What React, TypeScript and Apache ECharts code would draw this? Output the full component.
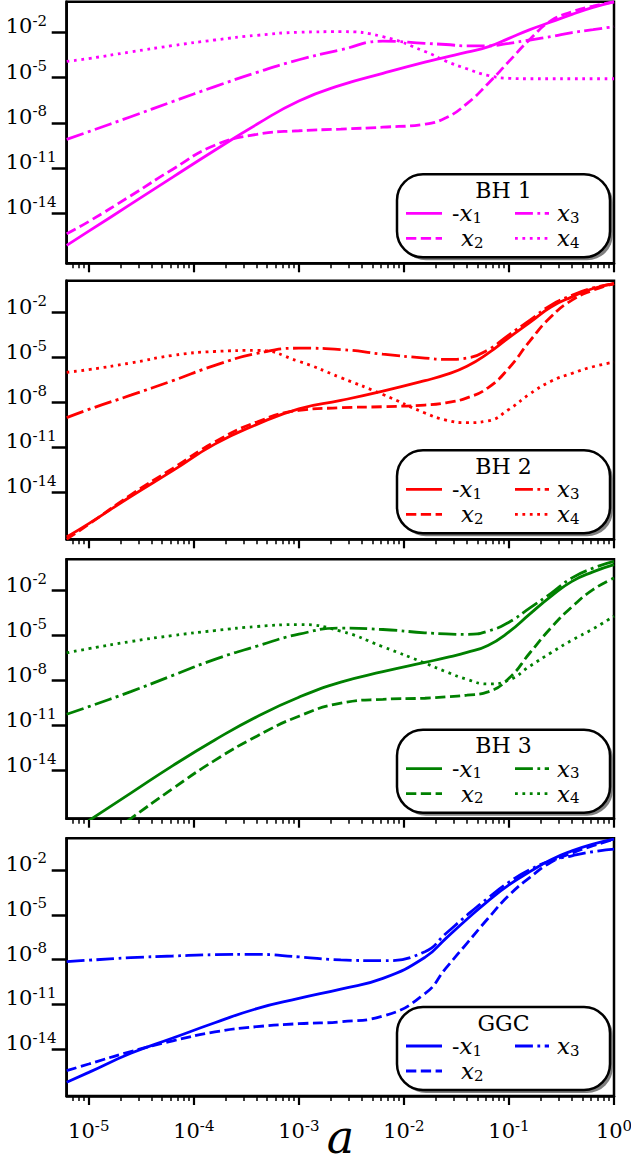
import React, { useEffect, useRef } from 'react';
import * as echarts from 'echarts';

// log10(a) sample positions shared by every curve
const X_EXP = [-5.21, -5.0, -4.6, -4.2, -3.8, -3.4, -3.0, -2.6, -2.2, -1.8, -1.6, -1.4, -1.2, -1.0, -0.8, -0.6, -0.4, -0.2, 0];

// log10 of the plotted quantities
const BH1_X1 = [-16.13, -15.19, -13.4, -11.6, -9.82, -8.1, -6.55, -5.5, -4.72, -3.98, -3.65, -3.32, -2.97, -2.4, -1.82, -1.32, -0.81, -0.35, 0.02];
const BH1_X2 = [-15.36, -14.55, -12.84, -11.08, -9.49, -8.77, -8.53, -8.42, -8.29, -8.09, -7.67, -6.73, -5.41, -3.93, -2.46, -1.23, -0.64, -0.26, 0.02];
const BH1_X3 = [-9.1, -8.59, -7.6, -6.59, -5.6, -4.66, -3.82, -3.16, -2.59, -2.73, -2.81, -2.9, -2.9, -2.73, -2.51, -2.29, -2.02, -1.82, -1.63];
const BH1_X4 = [-3.93, -3.74, -3.3, -2.88, -2.51, -2.2, -2.0, -1.96, -2.29, -3.27, -3.91, -4.42, -4.86, -5.05, -5.08, -5.08, -5.08, -5.08, -5.08];

const BH2_X1 = [-16.98, -16.09, -14.28, -12.55, -10.78, -9.46, -8.42, -7.86, -7.24, -6.54, -6.14, -5.58, -4.72, -3.66, -2.64, -1.62, -0.94, -0.38, -0.05];
const BH2_X2 = [-17.13, -16.14, -14.17, -12.4, -10.63, -9.3, -8.53, -8.35, -8.28, -8.17, -8.02, -7.69, -7.02, -5.69, -3.88, -2.27, -1.16, -0.5, -0.05];
const BH2_X3 = [-9.01, -8.46, -7.51, -6.54, -5.52, -4.72, -4.37, -4.46, -4.77, -5.03, -5.12, -5.03, -4.48, -3.48, -2.49, -1.49, -0.83, -0.34, -0.05];
const BH2_X4 = [-5.98, -5.8, -5.36, -4.85, -4.59, -4.52, -5.25, -6.34, -7.46, -8.7, -9.17, -9.35, -9.23, -8.46, -7.42, -6.58, -6.05, -5.61, -5.3];

const BH3_X1 = [-18.3, -17.33, -15.5, -13.66, -11.95, -10.4, -9.1, -8.1, -7.4, -6.78, -6.47, -6.12, -5.65, -4.75, -3.55, -2.38, -1.38, -0.75, -0.27];
const BH3_X2 = [-20.2, -19.2, -17.19, -15.19, -13.31, -11.7, -10.37, -9.5, -9.24, -9.17, -9.08, -8.97, -8.75, -7.84, -6.14, -4.48, -3.08, -1.93, -1.16];
const BH3_X3 = [-10.24, -9.73, -8.73, -7.65, -6.58, -5.7, -4.9, -4.5, -4.59, -4.81, -4.88, -4.92, -4.7, -4.1, -3.15, -2.18, -1.15, -0.5, -0.05];
const BH3_X4 = [-6.14, -5.87, -5.39, -4.99, -4.66, -4.39, -4.26, -4.7, -5.74, -6.83, -7.4, -7.91, -8.22, -7.96, -7.03, -6.14, -5.3, -4.55, -3.7];

const GGC_X1 = [-16.21, -15.55, -14.27, -13.25, -12.23, -11.28, -10.6, -9.97, -9.26, -7.85, -6.58, -5.3, -4.08, -3.0, -2.11, -1.31, -0.72, -0.27, 0.06];
const GGC_X2 = [-15.43, -14.99, -14.15, -13.44, -12.84, -12.49, -12.29, -12.16, -11.78, -10.28, -8.57, -6.91, -5.25, -3.7, -2.49, -1.49, -0.87, -0.38, 0.06];
const GGC_X3 = [-8.13, -8.04, -7.87, -7.76, -7.67, -7.65, -7.82, -8.02, -8.07, -7.47, -6.25, -5.03, -3.88, -2.82, -1.98, -1.38, -1.05, -0.78, -0.61];

const PANEL_TITLES = ['BH 1', 'BH 2', 'BH 3', 'GGC'];
const PANEL_SERIES = [
  [BH1_X1, BH1_X2, BH1_X3, BH1_X4],
  [BH2_X1, BH2_X2, BH2_X3, BH2_X4],
  [BH3_X1, BH3_X2, BH3_X3, BH3_X4],
  [GGC_X1, GGC_X2, GGC_X3],
];
const SERIES_SUB = ['1', '2', '3', '4'];
const SERIES_PREFIX = ['-', '', '', ''];
const X_NAME = 'a';

const X_MAJOR = [-5, -4, -3, -2, -1, 0];
const Y_MAJOR = [-14, -11, -8, -5, -2];
const X_MIN = -5.21;
const X_MAX = 0;

// layout
const COLORS = ['#ff00ff', '#ff0000', '#008000', '#0000ff'];
const TOPS = [1.7, 280.7, 559.3, 838.3];
const BOTTOMS = [263.3, 539.3, 818.7, 1096];
const Y_MIN = [-17.32, -17.14, -17.2, -17.13];
const Y_MAX = [0.03, 0.14, 0.09, 0.12];
const GRID_LEFT = 66.7;
const GRID_RIGHT_X = 614;
const LW = 2.8;
const DASHES: (number[] | 'solid')[] = ['solid', [10.3, 4.5], [17.9, 4.5, 2.8, 4.5], [2.8, 4.6]];
const FONT = 'DejaVu Serif';

const minorTicks = (): number[] => {
  const out: number[] = [];
  for (let d = -6; d <= -1; d++) {
    for (let k = 2; k <= 9; k++) {
      const v = d + Math.log10(k);
      if (v >= X_MIN && v <= X_MAX) out.push(v);
    }
  }
  return out;
};

const tickRich = {
  b: { fontFamily: FONT, fontSize: 21, lineHeight: 26, color: '#000' },
  s: { fontFamily: FONT, fontSize: 15, lineHeight: 15, verticalAlign: 'top', color: '#000' },
};
const tickFmt = (v: number) => `{b|10}{s|${Math.round(v)}}`;

const legendRich = {
  i: { fontFamily: FONT, fontStyle: 'italic', fontSize: 23, lineHeight: 24, fill: '#000' },
  s: { fontFamily: FONT, fontSize: 15, lineHeight: 15, verticalAlign: 'bottom', fill: '#000' },
  m: { fontFamily: FONT, fontSize: 22, lineHeight: 24, fill: '#000' },
};

function buildLegend(i: number) {
  const color = COLORS[i];
  const bw = 213;
  const bh = 83;
  const bx = 397;
  const by = BOTTOMS[i] - 6 - bh;
  const children: any[] = [
    { type: 'rect', z: 100, shape: { x: 3, y: 3, width: bw, height: bh, r: 26 }, style: { fill: '#7f7f7f' } },
    { type: 'rect', z: 101, shape: { x: 0, y: 0, width: bw, height: bh, r: 26 }, style: { fill: '#fff', stroke: '#000', lineWidth: 2.5 } },
    {
      type: 'text', z: 102, x: bw / 2, y: 16,
      style: { text: PANEL_TITLES[i], fontFamily: FONT, fontSize: 22, fill: '#000', align: 'center', verticalAlign: 'middle' },
    },
  ];
  const n = PANEL_SERIES[i].length;
  for (let k = 0; k < n; k++) {
    const col = k < 2 ? 0 : 1;
    const row = k % 2;
    const cy = row === 0 ? 39 : 64;
    const sx0 = col === 0 ? 9 : 118;
    const sx1 = col === 0 ? 45 : 152;
    const dash = DASHES[k];
    children.push({
      type: 'line', z: 102,
      shape: { x1: sx0, y1: cy, x2: sx1, y2: cy },
      style: { stroke: color, lineWidth: LW, lineDash: dash === 'solid' ? null : dash },
    });
    const lx = col === 0 ? (SERIES_PREFIX[k] ? 55 : 64) : 160;
    const txt = (SERIES_PREFIX[k] ? `{m|${SERIES_PREFIX[k]}}` : '') + `{i|x}{s|${SERIES_SUB[k]}}`;
    children.push({
      type: 'text', z: 102, x: lx, y: cy,
      style: { text: txt, rich: legendRich, fontFamily: FONT, fontSize: 22, fill: '#000', align: 'left', verticalAlign: 'middle' },
    });
  }
  return { type: 'group', x: bx, y: by, children };
}

export default function App() {
  const ref = useRef<HTMLDivElement>(null);
  useEffect(() => {
    document.body.style.margin = '0';
    if (!ref.current) return;
    const chart = echarts.init(ref.current, undefined, { renderer: 'svg' });
    const minor = minorTicks();
    const grids: any[] = [];
    const xAxes: any[] = [];
    const yAxes: any[] = [];
    const series: any[] = [];
    for (let i = 0; i < 4; i++) {
      grids.push({
        left: GRID_LEFT, width: GRID_RIGHT_X - GRID_LEFT, top: TOPS[i], height: BOTTOMS[i] - TOPS[i],
        show: true, borderColor: '#000', borderWidth: 2.5, backgroundColor: 'transparent',
        containLabel: false, outerBoundsMode: 'none',
      });
      const last = i === 3;
      xAxes.push({
        type: 'value', gridIndex: i, min: X_MIN, max: X_MAX, position: 'bottom',
        axisLine: { show: true, onZero: false, lineStyle: { color: '#000', width: 2.5 } },
        axisTick: { show: true, customValues: X_MAJOR, length: 9, lineStyle: { color: '#000', width: 2.2 } },
        axisLabel: last
          ? { show: true, customValues: X_MAJOR, formatter: tickFmt, rich: tickRich, margin: 22 }
          : { show: false },
        splitLine: { show: false },
        name: last ? X_NAME : '',
        nameLocation: 'middle',
        nameGap: 18,
        nameMoveOverlap: false,
        nameTextStyle: { fontFamily: FONT, fontStyle: 'italic', fontSize: 46, color: '#000', lineHeight: 46 },
      });
      xAxes.push({
        type: 'value', gridIndex: i, min: X_MIN, max: X_MAX, position: 'bottom',
        axisLine: { show: false, onZero: false },
        axisTick: { show: true, customValues: minor, length: 5, lineStyle: { color: '#000', width: 1.5 } },
        axisLabel: { show: false },
        splitLine: { show: false },
      });
      yAxes.push({
        type: 'value', gridIndex: i, min: Y_MIN[i], max: Y_MAX[i], position: 'left',
        axisLine: { show: true, onZero: false, lineStyle: { color: '#000', width: 2.5 } },
        axisTick: { show: true, customValues: Y_MAJOR, length: 15, lineStyle: { color: '#000', width: 2.5 } },
        axisLabel: {
          show: true, customValues: Y_MAJOR, formatter: tickFmt, rich: tickRich,
          margin: 61, align: 'left', padding: [0, 0, 12, 0],
        },
        splitLine: { show: false },
      });
      PANEL_SERIES[i].forEach((arr, k) => {
        series.push({
          type: 'line',
          name: `${PANEL_TITLES[i]} ${SERIES_PREFIX[k]}x${SERIES_SUB[k]}`,
          xAxisIndex: i * 2,
          yAxisIndex: i,
          data: X_EXP.map((x, j) => [x, arr[j]]),
          showSymbol: false,
          symbol: 'none',
          smooth: 0.5,
          clip: true,
          lineStyle: { color: COLORS[i], width: LW, type: DASHES[k], cap: 'butt' },
          z: 3,
        });
      });
    }
    chart.setOption({
      animation: false,
      backgroundColor: '#fff',
      grid: grids,
      xAxis: xAxes,
      yAxis: yAxes,
      series,
      graphic: [0, 1, 2, 3].map((i) => buildLegend(i)),
    });
    return () => chart.dispose();
  }, []);
  return <div ref={ref} style={{ position: 'absolute', left: 0, top: 0, width: 631, height: 1165 }} />;
}
